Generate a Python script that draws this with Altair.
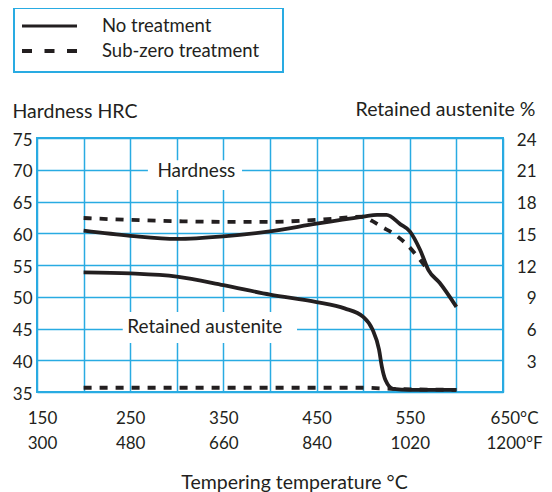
import altair as alt
import pandas as pd

FONT = "Lato"
INK = "#231F20"
CYAN = "#29ABE2"

# ---- data ----
# Hardness HRC, no treatment
hard_none_t = [200, 250, 300, 350, 400, 450, 500, 515, 525, 540, 550, 561, 570, 582, 600]
hard_none_v = [60.4, 59.6, 59.1, 59.5, 60.3, 61.5, 62.6, 62.9, 62.9, 61.4, 60.3, 57.4, 54.2, 52.2, 48.4]
# Hardness HRC, sub-zero treatment
hard_sub_t = [200, 250, 300, 350, 400, 450, 500, 510, 520, 532, 547, 561, 570]
hard_sub_v = [62.4, 62.1, 61.9, 61.8, 61.8, 62.1, 62.6, 61.9, 61.0, 60.0, 58.2, 55.8, 54.1]
# Retained austenite %, no treatment
ra_none_t = [200, 250, 300, 350, 400, 450, 480, 500, 510, 517, 520, 524, 532, 550, 600]
ra_none_v = [11.3, 11.2, 10.9, 10.1, 9.2, 8.5, 7.9, 7.1, 5.9, 4.0, 2.4, 1.1, 0.3, 0.2, 0.2]
# Retained austenite %, sub-zero treatment
ra_sub_t = [200, 300, 400, 500, 530, 600]
ra_sub_v = [0.4, 0.4, 0.4, 0.4, 0.3, 0.2]

legend_labels = ["No treatment", "Sub-zero treatment"]
x_label_ticks = [150, 250, 350, 450, 550, 650]
x_labels_c = ["150", "250", "350", "450", "550", "650°C"]
x_labels_f = ["300", "480", "660", "840", "1020", "1200°F"]
hrc_ticks = [35, 40, 45, 50, 55, 60, 65, 70, 75]
ra_ticks = [3, 6, 9, 12, 15, 18, 21, 24]
grid_x = list(range(150, 651, 50))

ann_text = ["Hardness", "Retained austenite"]
ann_x = [321, 330]
ann_y = [69.8, 45.3]
ann_box_x1 = [269, 242]
ann_box_x2 = [370, 429]
ann_box_y1 = [66.8, 42.7]
ann_box_y2 = [71.5, 47.6]

TITLE_FS = 19.5

# ---- scales & axes ----
label_expr = "".join(
    f"datum.value == {t} ? ['{c}', '{f}'] : " for t, c, f in zip(x_label_ticks, x_labels_c, x_labels_f)
) + "''"

x_scale = alt.Scale(domain=[150, 650], nice=False, zero=False)
x_axis = alt.Axis(
    values=grid_x, grid=True, ticks=False, domain=False, labelFlush=False,
    labelExpr=label_expr, labelFontSize=17, labelLineHeight=25, labelPadding=18,
    labelOffset={"condition": [{"test": "datum.value == 650", "value": 11},
                               {"test": "datum.value == 150", "value": 5}], "value": 0},
    title="Tempering temperature °C", titleX=257, titleY=96, titleBaseline="alphabetic",
    titleFontSize=TITLE_FS, titleFontWeight="normal",
)
left_scale = alt.Scale(domain=[35, 75], nice=False, zero=False)
left_axis = alt.Axis(
    values=hrc_ticks, grid=True, ticks=False, domain=False,
    labelFontSize=17, labelPadding=5, labelOffset=2,
    title="Hardness HRC", titleAngle=0, titleAlign="left", titleBaseline="alphabetic",
    titleX=-25, titleY=-21, titleFontSize=TITLE_FS, titleFontWeight="normal",
)
right_scale = alt.Scale(domain=[0, 24], nice=False, zero=False)
right_axis = alt.Axis(
    orient="right", values=ra_ticks, grid=False, ticks=False, domain=False,
    labelFontSize=17, labelAlign="right", labelPadding=33, labelOffset=2,
    title="Retained austenite %", titleAngle=0, titleAlign="right", titleBaseline="alphabetic",
    titleX=32, titleY=-23, titleFontSize=TITLE_FS, titleFontWeight="normal",
)

X = alt.X("t:Q", scale=x_scale, axis=x_axis)
YL = alt.Y("v:Q", scale=left_scale, axis=left_axis)
YR = alt.Y("v:Q", scale=right_scale, axis=right_axis)

def df(t, v):
    return pd.DataFrame({"t": t, "v": v})

LW = 3.8
DASH = [8, 8]

hard_sub = alt.Chart(df(hard_sub_t, hard_sub_v)).mark_line(
    color=INK, strokeWidth=LW, strokeDash=DASH, interpolate="monotone").encode(x=X, y=YL)
hard_none = alt.Chart(df(hard_none_t, hard_none_v)).mark_line(
    color=INK, strokeWidth=LW, interpolate="monotone").encode(x=X, y=YL)

ann = pd.DataFrame({"label": ann_text, "t": ann_x, "v": ann_y,
                    "x1": ann_box_x1, "x2": ann_box_x2, "y1": ann_box_y1, "y2": ann_box_y2})
boxes = alt.Chart(ann).mark_rect(fill="white", stroke=None).encode(
    x=alt.X("x1:Q", scale=x_scale, axis=x_axis), x2="x2:Q",
    y=alt.Y("y1:Q", scale=left_scale, axis=left_axis), y2="y2:Q")
texts = alt.Chart(ann).mark_text(font=FONT, fontSize=19, color=INK, baseline="middle", align="center").encode(
    x=X, y=YL, text="label:N")

# legend (drawn above the plot)
LEG_FS = 18.5
leg_box = alt.Chart(pd.DataFrame({"a": [0]})).mark_rect(
    fill="white", stroke=CYAN, strokeWidth=2).encode(
    x=alt.value(-23), x2=alt.value(246), y=alt.value(-130), y2=alt.value(-66))
leg_solid = alt.Chart(pd.DataFrame({"a": [0]})).mark_rule(color=INK, strokeWidth=3).encode(
    x=alt.value(-15), x2=alt.value(40), y=alt.value(-112))
leg_dash = alt.Chart(pd.DataFrame({"a": [0]})).mark_rule(
    color=INK, strokeWidth=4, strokeDash=[10, 12.5]).encode(
    x=alt.value(-15), x2=alt.value(40), y=alt.value(-87))
leg_text1 = alt.Chart(pd.DataFrame({"label": [legend_labels[0]]})).mark_text(
    font=FONT, fontSize=LEG_FS, color=INK, align="left", baseline="middle").encode(
    x=alt.value(65), y=alt.value(-112), text="label:N")
leg_text2 = alt.Chart(pd.DataFrame({"label": [legend_labels[1]]})).mark_text(
    font=FONT, fontSize=LEG_FS, color=INK, align="left", baseline="middle").encode(
    x=alt.value(65), y=alt.value(-87), text="label:N")

left = alt.layer(boxes, texts, hard_sub, hard_none,
                 leg_box, leg_solid, leg_dash, leg_text1, leg_text2)

ra_sub = alt.Chart(df(ra_sub_t, ra_sub_v)).mark_line(
    color=INK, strokeWidth=LW, strokeDash=DASH, interpolate="monotone").encode(x=X, y=YR)
ra_none = alt.Chart(df(ra_none_t, ra_none_v)).mark_line(
    color=INK, strokeWidth=LW, interpolate="monotone").encode(x=X, y=YR)
right = alt.layer(ra_sub, ra_none)

chart = alt.layer(left, right).resolve_scale(y="independent").properties(
    width=466, height=254,
    padding={"left": 29, "top": 130, "right": 41, "bottom": 100},
    autosize=alt.AutoSizeParams(type="none"),
).configure(font=FONT).configure_axis(
    labelFont=FONT, titleFont=FONT, labelColor=INK, titleColor=INK,
    gridColor=CYAN, gridWidth=1.5, gridOpacity=1,
).configure_view(stroke=CYAN, strokeWidth=2)

chart.save("out.html", embed_options={"renderer": "svg", "actions": False})
